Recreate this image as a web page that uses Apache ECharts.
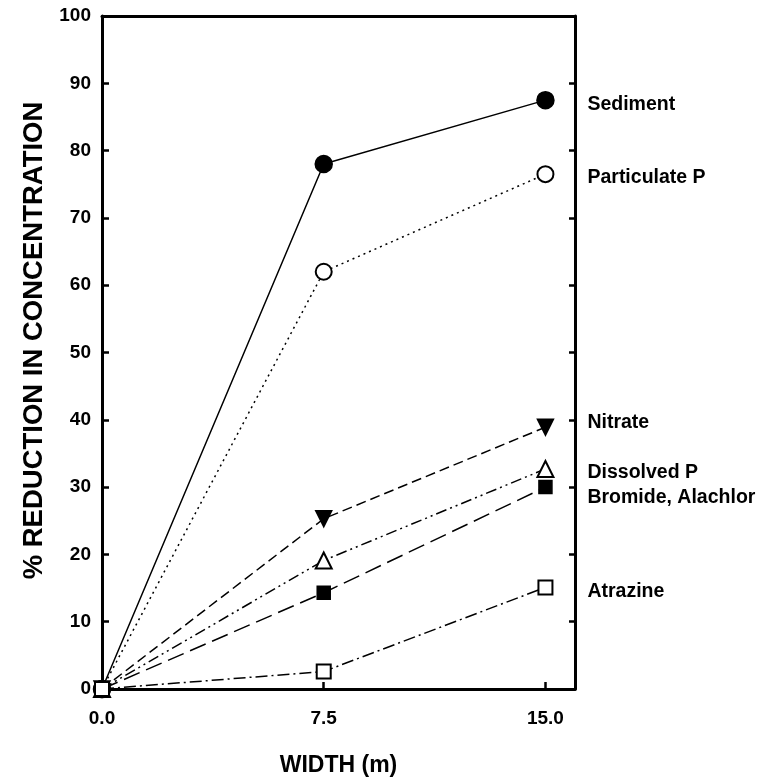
<!DOCTYPE html>
<html>
<head>
<meta charset="utf-8">
<script src="https://cdn.jsdelivr.net/npm/echarts@6/dist/echarts.min.js"></script>
<style>
  html, body { margin: 0; padding: 0; background: #fff; }
  #chart { width: 774px; height: 780px; }
</style>
</head>
<body>
<div id="chart"></div>
<script>
// buffer widths (m)
const widths = [0, 7.5, 15]
const xTicks = [0, 7.5, 15]

// % reduction per constituent
const sediment = [0, 78, 87.5]
const particulateP = [0, 62, 76.5]
const nitrate = [0, 25.3, 38.9]
const dissolvedP = [0, 19.1, 32.7]
const bromideAlachlor = [0, 14.3, 30]
const atrazine = [0, 2.6, 15.1]

const names = ['Sediment', 'Particulate P', 'Nitrate', 'Dissolved P\nBromide, Alachlor', '', 'Atrazine']

const FONT = '"Liberation Sans", Arial, sans-serif'

function pairs(ys) {
  return widths.map((w, i) => [w, ys[i]])
}

function makeSeries(name, ys, symbol, dash, opts) {
  opts = opts || {}
  return {
    name: name,
    type: 'line',
    data: pairs(ys),
    symbol: symbol,
    symbolSize: opts.size || 15,
    symbolRotate: opts.rotate || 0,
    lineStyle: { color: '#000', width: 1.5, type: dash },
    itemStyle: { color: '#000', borderColor: '#000', borderWidth: 1.5 },
    emphasis: { disabled: true },
    endLabel: {
      show: !!name,
      formatter: name,
      distance: 42,
      offset: opts.offset || [0, 0],
      color: '#000',
      fontFamily: FONT,
      fontWeight: 'bold',
      fontSize: 19.5,
      lineHeight: 25,
      align: 'left'
    }
  }
}

const chart = echarts.init(document.getElementById('chart'))

const option = {
  backgroundColor: '#fff',
  animation: false,
  grid: { left: 102, right: 199, top: 16, bottom: 91, outerBoundsMode: 'none' },
  xAxis: [
    {
      type: 'value',
      min: 0,
      max: 16,
      name: 'WIDTH (m)',
      nameLocation: 'middle',
      nameGap: 65,
      nameTextStyle: { color: '#000', fontFamily: FONT, fontWeight: 'bold', fontSize: 23 },
      axisLine: { show: true, onZero: false, lineStyle: { color: '#000', width: 3 } },
      axisTick: { show: true, inside: true, length: 7, lineStyle: { color: '#000', width: 2.5 }, customValues: xTicks },
      axisLabel: {
        customValues: xTicks,
        formatter: v => v.toFixed(1),
        margin: 20,
        color: '#000', fontFamily: FONT, fontWeight: 'bold', fontSize: 19
      },
      splitLine: { show: false }
    },
    {
      type: 'value',
      position: 'top',
      min: 0,
      max: 16,
      axisLine: { show: true, onZero: false, lineStyle: { color: '#000', width: 3 } },
      axisTick: { show: false },
      axisLabel: { show: false },
      splitLine: { show: false }
    }
  ],
  yAxis: [
    {
      type: 'value',
      min: 0,
      max: 100,
      interval: 10,
      name: '% REDUCTION IN CONCENTRATION',
      nameLocation: 'middle',
      nameGap: 54,
      nameTextStyle: { color: '#000', fontFamily: FONT, fontWeight: 'bold', fontSize: 27.5, padding: [0, 0, 0, 24] },
      axisLine: { show: true, onZero: false, lineStyle: { color: '#000', width: 3 } },
      axisTick: { show: true, inside: true, length: 7, lineStyle: { color: '#000', width: 2.5 } },
      axisLabel: { margin: 11, color: '#000', fontFamily: FONT, fontWeight: 'bold', fontSize: 19 },
      splitLine: { show: false }
    },
    {
      type: 'value',
      position: 'right',
      min: 0,
      max: 100,
      interval: 10,
      axisLine: { show: true, onZero: false, lineStyle: { color: '#000', width: 3 } },
      axisTick: { show: true, inside: true, length: 6, lineStyle: { color: '#000', width: 2.5 } },
      axisLabel: { show: false },
      splitLine: { show: false }
    }
  ],
  series: [
    makeSeries(names[0], sediment, 'circle', 'solid', { size: 17, offset: [0, 4] }),
    makeSeries(names[1], particulateP, 'emptyCircle', [2, 4], { size: 16, offset: [0, 3] }),
    makeSeries(names[2], nitrate, 'triangle', [10, 5], { size: 16, rotate: 180, offset: [0, -5] }),
    makeSeries(names[3], dissolvedP, 'emptyTriangle', [11, 4, 2, 4, 2, 4], { size: 16, offset: [0, 16] }),
    makeSeries(names[4], bromideAlachlor, 'rect', [17, 7], { size: 13 }),
    makeSeries(names[5], atrazine, 'emptyRect', [12, 4, 2, 4], { size: 14, offset: [0, 4] })
  ]
}

chart.setOption(option)
</script>
</body>
</html>
